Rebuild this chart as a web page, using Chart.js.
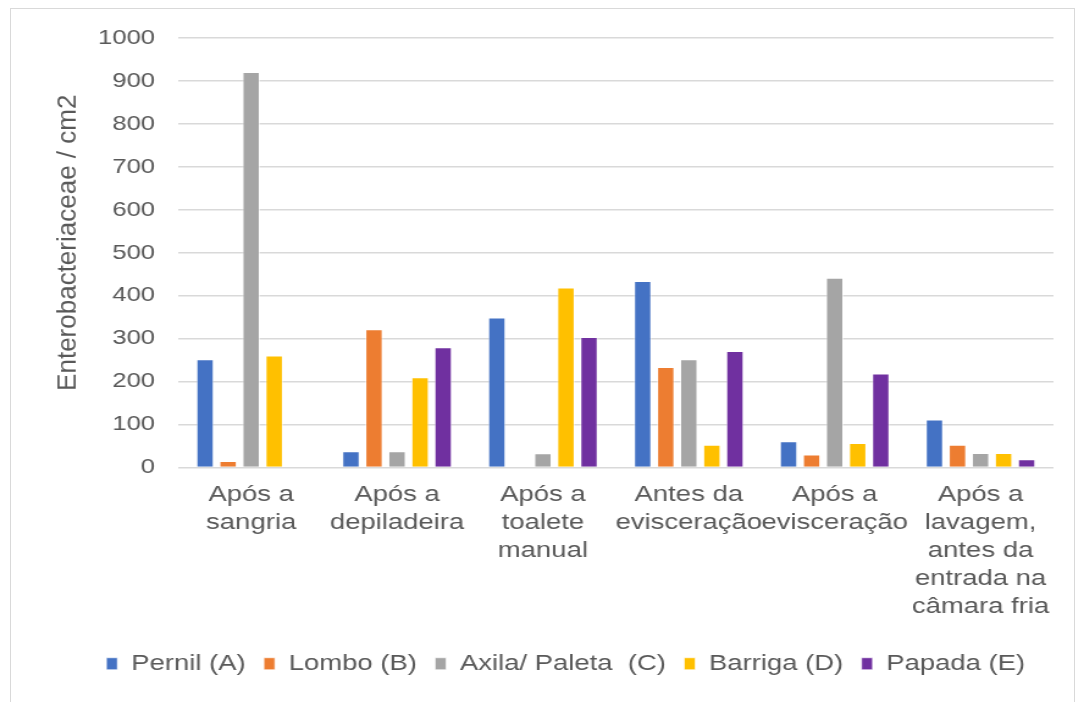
<!DOCTYPE html>
<html>
<head>
<meta charset="utf-8">
<script src="https://cdn.jsdelivr.net/npm/chart.js@4"></script>
<style>
  html, body { margin: 0; padding: 0; background: #fff; }
  #wrap { position: relative; width: 1084px; height: 702px; }
  #frame { position: absolute; left: 10px; top: 8px; width: 1065px; height: 700px; border: 1px solid #d9d9d9; box-sizing: border-box; pointer-events: none; }
  /* o gráfico é desenhado num buffer mais estreito e esticado na horizontal */
  canvas { position: absolute; left: 0; top: 0; width: 1084px !important; height: 702px !important; }
</style>
</head>
<body>
<div id="wrap">
  <canvas id="chart" width="888" height="702"></canvas>
  <div id="frame"></div>
</div>
<script>
// etapas do abate
const etapas = [
  ['Após a', 'sangria'],
  ['Após a', 'depiladeira'],
  ['Após a', 'toalete', 'manual'],
  ['Antes da', 'evisceração'],
  ['Após a', 'evisceração'],
  ['Após a', 'lavagem,', 'antes da', 'entrada na', 'câmara fria']
];

// Enterobacteriaceae / cm2 por região da carcaça
const pernil = [252, 38, 349, 434, 61, 112];
const lombo = [15, 322, 0, 234, 30, 53];
const axila = [921, 38, 33, 252, 442, 34];
const barriga = [261, 210, 419, 53, 57, 34];
const papada = [0, 280, 304, 271, 219, 19];

const tituloY = 'Enterobacteriaceae / cm2';

const cinza = '#595959';
const fonte = 'Liberation Sans, Arial, Helvetica, sans-serif';
const ESTICA = 1084 / 888;

function serie(label, data, cor) {
  return {
    label, data,
    backgroundColor: cor,
    borderColor: 'rgba(255,255,255,0.6)',
    borderWidth: 1,
    categoryPercentage: 0.79,
    barPercentage: 0.77
  };
}

// título do eixo y desenhado sem o esticamento horizontal
const tituloEixoY = {
  id: 'tituloEixoY',
  afterDraw(chart) {
    const { ctx, chartArea } = chart;
    ctx.save();
    ctx.translate(68 / ESTICA, (chartArea.top + chartArea.bottom) / 2 - 10);
    ctx.scale(1 / ESTICA, 1);
    ctx.rotate(-Math.PI / 2);
    ctx.font = '26px ' + fonte;
    ctx.fillStyle = cinza;
    ctx.textAlign = 'center';
    ctx.textBaseline = 'middle';
    ctx.fillText(tituloY, 0, 0);
    ctx.restore();
  }
};

new Chart(document.getElementById('chart'), {
  type: 'bar',
  data: {
    labels: etapas,
    datasets: [
      serie('Pernil (A)', pernil, '#4472C4'),
      serie('Lombo (B)', lombo, '#ED7D31'),
      serie('Axila/ Paleta  (C)', axila, '#A5A5A5'),
      serie('Barriga (D)', barriga, '#FFC000'),
      serie('Papada (E)', papada, '#7030A0')
    ]
  },
  plugins: [tituloEixoY],
  options: {
    responsive: false,
    animation: false,
    devicePixelRatio: 1,
    layout: { padding: { left: 64, right: 25, top: 38, bottom: 17 } },
    plugins: {
      tooltip: { enabled: false },
      legend: {
        position: 'bottom',
        labels: {
          color: cinza,
          font: { family: fonte, size: 22.5 },
          boxWidth: 9,
          boxHeight: 12,
          padding: 15
        }
      }
    },
    scales: {
      x: {
        grid: { display: false, drawTicks: false },
        border: { display: false },
        ticks: {
          color: cinza,
          font: { family: fonte, size: 22.5, lineHeight: 1.244 },
          padding: 13,
          maxRotation: 0,
          autoSkip: false
        },
        afterFit: s => { s.height = 170; }
      },
      y: {
        min: 0,
        max: 1000,
        grid: { color: '#d9d9d9', lineWidth: 1.5, drawTicks: false },
        border: { display: false },
        ticks: {
          stepSize: 100,
          color: cinza,
          font: { family: fonte, size: 21 },
          padding: 19,
          callback: v => String(v)
        },
        afterFit: s => { s.width = 82; }
      }
    }
  }
});
</script>
</body>
</html>
